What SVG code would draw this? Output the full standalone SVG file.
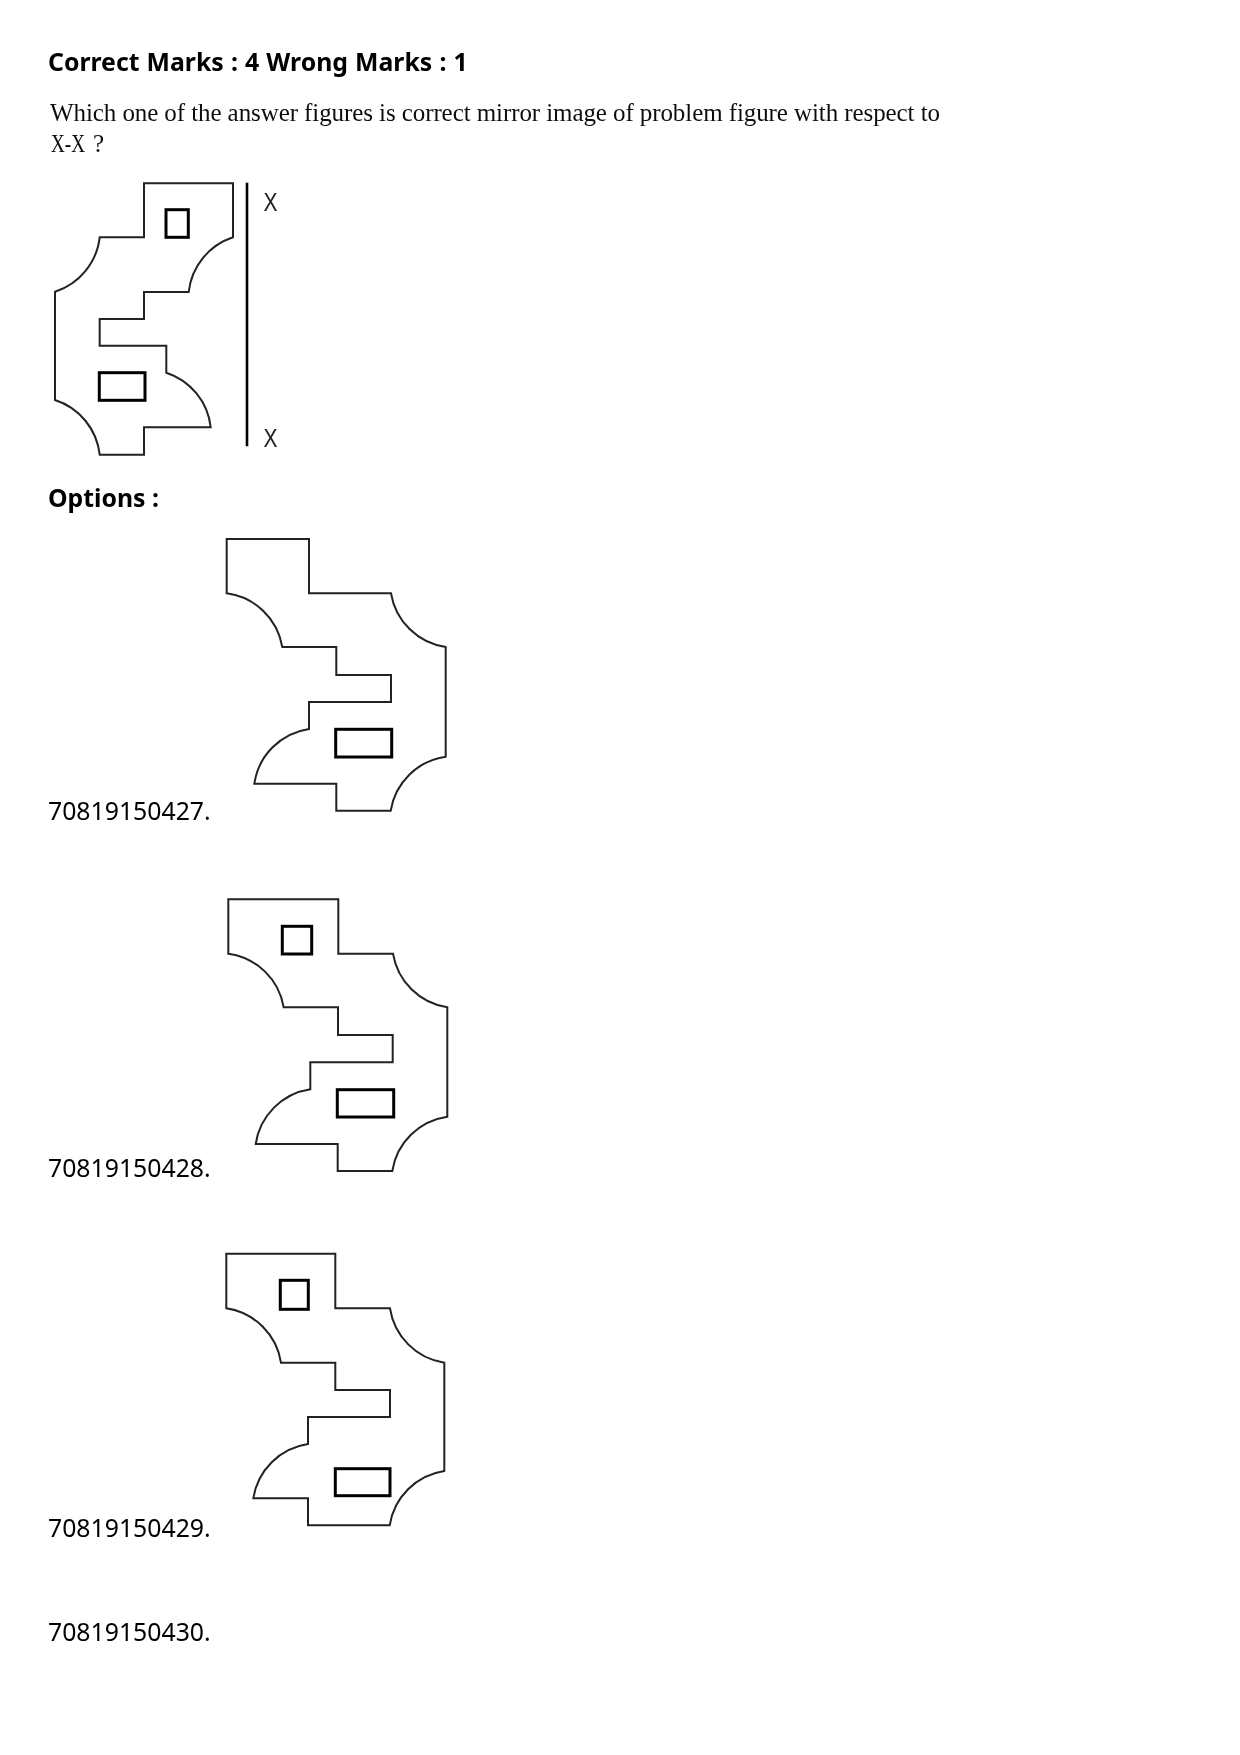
<svg xmlns="http://www.w3.org/2000/svg" width="1240" height="1755" viewBox="0 0 1240 1755">
<defs>
<filter id="soft" x="-2%" y="-2%" width="104%" height="104%"><feGaussianBlur stdDeviation="0.35"/></filter>
<filter id="softer" x="-2%" y="-20%" width="104%" height="140%"><feGaussianBlur stdDeviation="0.5"/></filter>
<style>
.lb{font-family:"Noto Sans","Open Sans",sans-serif;font-size:24.8px;fill:#000}
.b{font-weight:700}
.q{font-family:"Liberation Serif",serif;font-size:25px;fill:#111}
.x{font-family:"Liberation Sans",sans-serif;font-size:26px;fill:#222}
.o{fill:none;stroke:#222;stroke-width:2;stroke-linejoin:miter}
.r{fill:none;stroke:#000;stroke-width:3}
</style></defs>
<rect width="1240" height="1755" fill="#fff"/>
<g filter="url(#soft)">
<text class="lb b" x="48" y="70.5" word-spacing="0.7">Correct Marks : 4 Wrong Marks : 1</text>
<g id="problem-figure">
<path class="o" d="M144 183.3H233V237.3A65 65 0 0 0 188.7 292H144V319H99.7V345.7H166.3V372.7A65 65 0 0 1 210.7 427.3H144V454.7H99.7A65 65 0 0 0 55 400V291.7A65 65 0 0 0 99.7 237.3H144Z"/>
<rect class="r" x="166" y="209.7" width="22.3" height="27.6"/>
<rect class="r" x="99.3" y="372.7" width="45.7" height="27.6"/>
<line x1="247" y1="182.7" x2="247" y2="446.3" stroke="#000" stroke-width="2.6"/>
<text class="x" x="263.5" y="210.5" textLength="14" lengthAdjust="spacingAndGlyphs">X</text>
<text class="x" x="263.5" y="446.5" textLength="14" lengthAdjust="spacingAndGlyphs">X</text>
</g>
<text class="lb b" x="48" y="506.7">Options :</text>
<g id="option-1">
<path class="o" d="M226.7 539H309V593.3H391A65 65 0 0 0 445.7 647V756.7A65 65 0 0 0 390.7 810.7H336.3V783.7H254.3A65 65 0 0 1 309 729V702H391V675H336.3V647H282.3A65 65 0 0 0 226.7 593.3Z"/>
<rect class="r" x="335.7" y="729.3" width="56" height="27.7"/>
<text class="lb" x="48" y="820">70819150427.</text>
</g>
<g id="option-2">
<path class="o" d="M228.3 899.3H338.3V953.7H393A65 65 0 0 0 447.3 1007.3V1116.7A65 65 0 0 0 392.3 1171H337.7V1144H255.7A65 65 0 0 1 310.3 1089.3V1062.3H392.7V1035H338V1007.3H283.7A65 65 0 0 0 228.3 953.7Z"/>
<rect class="r" x="282.3" y="926.3" width="29.4" height="27.7"/>
<rect class="r" x="337.3" y="1089.7" width="56.4" height="27.3"/>
<text class="lb" x="48" y="1176.7">70819150428.</text>
</g>
<g id="option-3">
<path class="o" d="M226.3 1253.7H335.3V1308.3H390A65 65 0 0 0 444.3 1362.7V1471A65 65 0 0 0 389.7 1525.3H308V1498.3H253.3A65 65 0 0 1 308 1444V1417H390V1390H335.3V1362.7H281A65 65 0 0 0 226.3 1308.3Z"/>
<rect class="r" x="280.3" y="1280.3" width="28" height="29"/>
<rect class="r" x="335.3" y="1468.7" width="54.7" height="27"/>
<text class="lb" x="48" y="1536.7">70819150429.</text>
</g>
<g id="option-4">
<text class="lb" x="48" y="1640.7">70819150430.</text>
</g>
</g>
<g filter="url(#softer)">
<text class="q" x="50" y="121" textLength="890" lengthAdjust="spacing">Which one of the answer figures is correct mirror image of problem figure with respect to</text>
<text class="q" x="51" y="152" textLength="34" lengthAdjust="spacingAndGlyphs">X-X</text>
<text class="q" x="93" y="152">?</text>
</g>
</svg>
